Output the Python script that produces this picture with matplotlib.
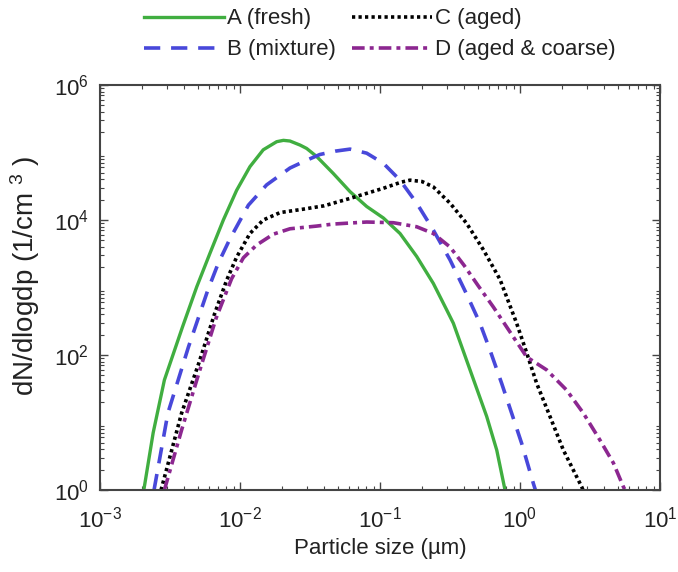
import matplotlib
matplotlib.use("Agg")
import matplotlib.pyplot as plt
import numpy as np

plt.rcParams["font.family"] = ["Liberation Sans", "DejaVu Sans"]
plt.rcParams["mathtext.fontset"] = "custom"
plt.rcParams["mathtext.rm"] = "Liberation Sans"
plt.rcParams["mathtext.default"] = "regular"

# log10 of particle size (um) and log10 of dN/dlogdp (1/cm3)
logd_a = [-2.687, -2.62, -2.54, -2.41, -2.309, -2.214, -2.119, -2.024, -1.929, -1.834,
          -1.738, -1.69, -1.643, -1.571, -1.524, -1.452, -1.334, -1.214, -1.095, -0.976,
          -0.857, -0.738, -0.619, -0.524, -0.476, -0.357, -0.238, -0.166, -0.107]
logn_a = [0.0, 0.85, 1.63, 2.42, 3.01, 3.51, 4.0, 4.44, 4.79, 5.04,
          5.16, 5.18, 5.17, 5.11, 5.06, 4.94, 4.69, 4.42, 4.20, 4.03,
          3.80, 3.46, 3.06, 2.67, 2.47, 1.78, 1.09, 0.59, 0.0]

logd_b = [-2.614, -2.515, -2.368, -2.23, -2.155, -2.072, -1.94, -1.81, -1.643, -1.53,
          -1.43, -1.32, -1.214, -1.095, -0.976, -0.857, -0.738, -0.619, -0.5, -0.381,
          -0.286, -0.214, -0.131, -0.06, 0.012, 0.095, 0.11]
logn_b = [0.0, 1.14, 2.12, 2.96, 3.36, 3.72, 4.22, 4.52, 4.77, 4.88,
          4.97, 5.02, 5.05, 4.99, 4.84, 4.59, 4.25, 3.85, 3.41, 2.9,
          2.47, 2.07, 1.58, 1.14, 0.69, 0.1, 0.0]

logd_c = [-2.564, -2.417, -2.294, -2.18, -2.095, -2.024, -1.929, -1.834, -1.714, -1.55,
          -1.4, -1.214, -0.976, -0.85, -0.786, -0.7, -0.619, -0.5, -0.381, -0.262,
          -0.143, -0.024, 0.048, 0.119, 0.214, 0.31, 0.44, 0.45]
logn_c = [0.0, 1.14, 1.88, 2.62, 3.11, 3.45, 3.8, 4.0, 4.11, 4.16,
          4.21, 4.32, 4.47, 4.56, 4.59, 4.57, 4.49, 4.25, 3.95, 3.56,
          3.12, 2.47, 2.03, 1.58, 1.09, 0.59, 0.05, 0.0]

logd_d = [-2.54, -2.417, -2.294, -2.17, -2.06, -1.976, -1.881, -1.762, -1.643, -1.452,
          -1.334, -1.095, -0.905, -0.738, -0.619, -0.5, -0.4, -0.3, -0.19, -0.071,
          0.048, 0.19, 0.333, 0.452, 0.571, 0.667, 0.738, 0.75]
logn_d = [0.0, 0.89, 1.73, 2.55, 3.13, 3.44, 3.63, 3.79, 3.87, 3.91,
          3.94, 3.97, 3.96, 3.90, 3.80, 3.60, 3.33, 3.03, 2.71, 2.34,
          1.97, 1.78, 1.48, 1.14, 0.74, 0.40, 0.05, 0.0]

labels = ["A (fresh)", "B (mixture)", "C (aged)", "D (aged & coarse)"]
txt = "#222222"

fig = plt.figure(figsize=(6.78, 5.72), dpi=100)
ax = fig.add_axes([100 / 678, 1 - 490 / 572, 560 / 678, 405 / 572])

ax.plot(10 ** np.array(logd_a), 10 ** np.array(logn_a), color="#40ae40", lw=2.4,
        label=labels[0])
ax.plot(10 ** np.array(logd_b), 10 ** np.array(logn_b), color="#4848da", lw=2.6,
        dashes=(4.5, 3), label=labels[1])
ax.plot(10 ** np.array(logd_c), 10 ** np.array(logn_c), color="black", lw=2.6,
        dashes=(0.9, 0.9), label=labels[2])
ax.plot(10 ** np.array(logd_d), 10 ** np.array(logn_d), color="#8c2790", lw=2.6,
        dashes=(3.5, 1.4, 1.1, 1.4), label=labels[3])

ax.set_xscale("log")
ax.set_yscale("log")
ax.set_xlim(1e-3, 1e1)
ax.set_ylim(1, 1e6)
ax.set_yticks([1, 1e2, 1e4, 1e6])
ax.set_xlabel("Particle size (µm)", fontsize=16, color=txt)
ax.xaxis.set_label_coords(0.5, -0.118)
ax.set_ylabel("dN/dlogdp (1/cm $^{3}$ )", fontsize=20, color=txt)
ax.yaxis.set_label_coords(-0.104, 0.53)

ax.tick_params(which="both", direction="in", top=True, right=True,
               labelsize=16, labelcolor=txt, color="#444444")
ax.tick_params(which="major", length=6, width=1)
ax.tick_params(axis="x", which="major", pad=12)
ax.tick_params(axis="y", which="major", pad=8)
ax.tick_params(which="minor", length=3, width=0.8)
for s in ax.spines.values():
    s.set_linewidth(1.5)
    s.set_color("#444444")

handles, _ = ax.get_legend_handles_labels()
fig.legend(handles, labels, ncol=2, loc="upper center", bbox_to_anchor=(0.5605, 0.997),
           frameon=False, fontsize=16, handlelength=3.6, handletextpad=0.15,
           columnspacing=0.7, labelspacing=0.45, borderpad=0.3, borderaxespad=0,
           labelcolor=txt)

fig.savefig("out.png", dpi=100)
